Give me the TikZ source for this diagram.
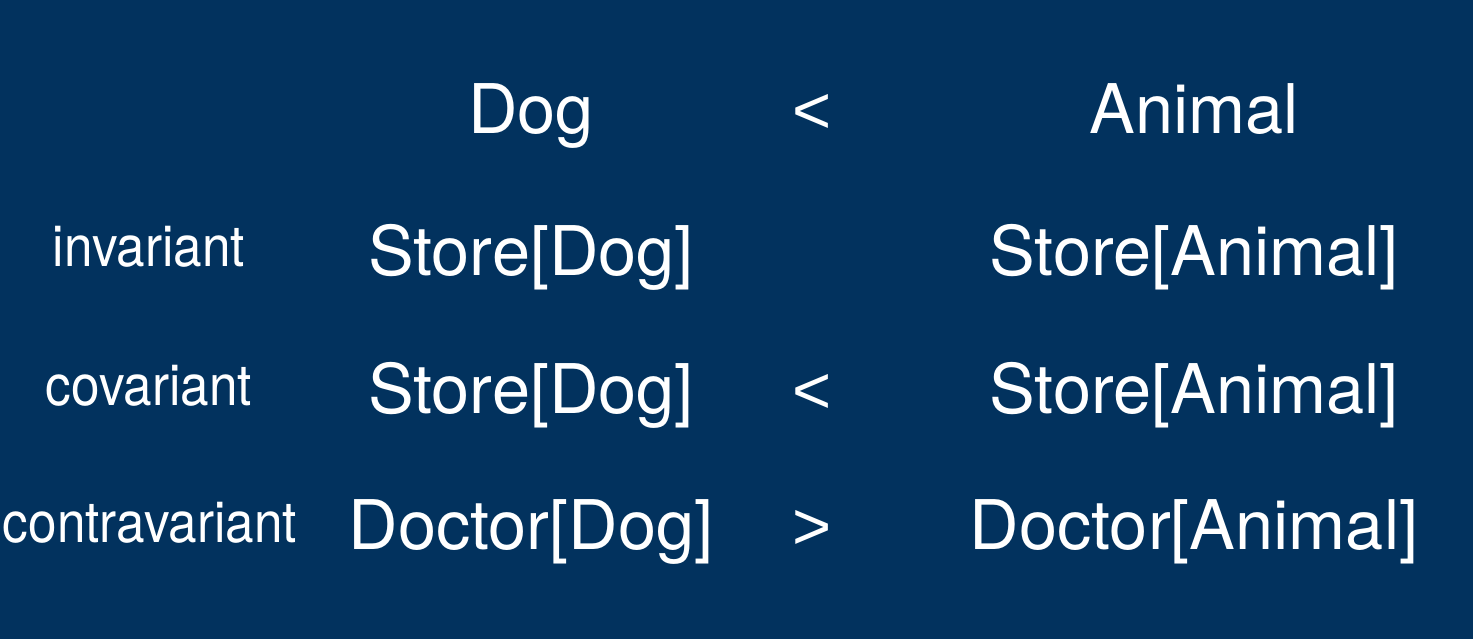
\documentclass[tikz,border=0pt]{standalone}
\usepackage{fontspec}
\setmainfont{TeX Gyre Heros}
\newfontfamily\symfont{Liberation Sans}
\definecolor{bgnavy}{RGB}{2,50,94}
\tikzset{
  big/.style={text=white, anchor=base, inner sep=0pt, font=\fontsize{68.5}{80}\selectfont},
  rel/.style={text=white, anchor=base, inner sep=0pt, font=\symfont\fontsize{67}{80}\selectfont},
  small/.style={text=white, anchor=base, inner sep=0pt},
}
\newcommand{\smalltxt}[1]{\scalebox{0.9}[1]{\fontsize{57}{70}\selectfont #1}}
\begin{document}
\begin{tikzpicture}[x=1pt,y=-1pt]
\fill[bgnavy] (0,0) rectangle (1473,639);
\useasboundingbox (0,0) rectangle (1473,639);
% row 1
\node[big] (dog) at (531,134) {Dog};
\node[rel] (lt1) at (812,134) {<};
\node[big] (animal) at (1194,134) {Animal};
% row 2
\node[small] (inv) at (149,267) {\smalltxt{invariant}};
\node[big] (sd2) at (531,276) {Store[Dog]};
\node[big] (sa2) at (1194,276) {Store[Animal]};
% row 3
\node[small] (cov) at (149,405) {\smalltxt{covariant}};
\node[big] (sd3) at (531,413) {Store[Dog]};
\node[rel] (lt3) at (812,413) {<};
\node[big] (sa3) at (1194,413) {Store[Animal]};
% row 4
\node[small] (con) at (150,542) {\smalltxt{contravariant}};
\node[big] (dd4) at (531,549) {Doctor[Dog]};
\node[rel] (gt4) at (812,549) {>};
\node[big] (da4) at (1194,549) {Doctor[Animal]};
\end{tikzpicture}
\end{document}
